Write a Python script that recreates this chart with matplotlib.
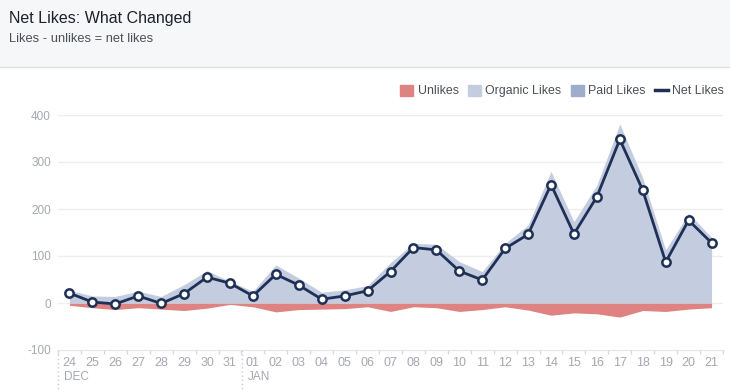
import matplotlib.pyplot as plt
from matplotlib.patches import Patch, Rectangle
from matplotlib.lines import Line2D
import numpy as np

plt.rcParams['font.family'] = ['Liberation Sans', 'DejaVu Sans']

# ── DATA ─────────────────────────────────────────────────────────────────────
day_labels = ["24", "25", "26", "27", "28", "29", "30", "31",
              "01", "02", "03", "04", "05", "06", "07", "08", "09", "10",
              "11", "12", "13", "14", "15", "16", "17", "18", "19", "20", "21"]
month_labels = ["DEC", "JAN"]
month_start = [0, 8]   # index of the first day of each month

organic_likes = [27, 15, 14, 25, 14, 39, 69, 46, 25, 81, 53, 23, 28, 37, 86,
                 127, 125, 88, 67, 127, 166, 280, 173, 251, 381, 266, 113, 191, 140]
paid_likes = [0] * 29
unlikes = [5, 10, 14, 10, 13, 16, 11, 3, 8, 19, 14, 13, 12, 8, 18,
           8, 10, 18, 14, 8, 15, 26, 21, 23, 30, 16, 18, 13, 10]
net_likes = [21, 2, -2, 15, -1, 20, 55, 42, 15, 61, 38, 8, 15, 26, 67,
             118, 113, 68, 49, 116, 146, 252, 147, 226, 348, 240, 87, 176, 128]

# ── COLOURS ──────────────────────────────────────────────────────────────────
C_UNLIKE = "#de8382"
C_ORGANIC = "#c4cde0"
C_PAID = "#9eadcb"
C_NET = "#1f3056"
C_TICK = "#a5a8b0"
C_GRID = "#eceef1"

x = np.arange(len(day_labels))
organic = np.array(organic_likes)
paid = np.array(paid_likes)
unl = np.array(unlikes)

fig = plt.figure(figsize=(7.3, 3.92), dpi=100)
fig.patch.set_facecolor("white")

# header band
fig.patches.append(Rectangle((0, 1 - 67 / 392), 1, 67 / 392, transform=fig.transFigure,
                             facecolor="#f6f7f9", edgecolor="none", zorder=0))
fig.add_artist(Line2D([0, 1], [1 - 67 / 392] * 2, transform=fig.transFigure,
                      color="#dddfe2", lw=1))
fig.text(9 / 730, 1 - 18 / 392, "Net Likes: What Changed", fontsize=11.5,
         color="#1d2129", va="center", ha="left")
fig.text(9 / 730, 1 - 39 / 392, "Likes - unlikes = net likes", fontsize=9.3,
         color="#4b4f56", va="center", ha="left")

ax = fig.add_axes([58 / 730, 42 / 392, 665 / 730, (350 - 115) / 392])
ax.set_xlim(-0.48, len(x) - 1 + 0.48)
ax.set_ylim(-100, 400)

ax.fill_between(x, 0, -unl, color=C_UNLIKE, lw=0, zorder=2)
ax.fill_between(x, 0, paid, color=C_PAID, lw=0, zorder=2)
ax.fill_between(x, paid, paid + organic, color=C_ORGANIC, lw=0, zorder=2, clip_on=False)
ax.plot(x, net_likes, color=C_NET, lw=2, marker="o", ms=6, mfc="white",
        mec=C_NET, mew=1.8, zorder=4, clip_on=False)

# grid
for v in [0, 100, 200, 300, 400]:
    ax.axhline(v, color=C_GRID, lw=1, zorder=1)

ax.set_yticks([-100, 0, 100, 200, 300, 400])
ax.set_yticklabels(["-100", "0", "100", "200", "300", "400"])
ax.tick_params(axis="y", length=0, pad=5, labelsize=8.5, labelcolor=C_TICK)

ax.set_xticks(x)
ax.set_xticklabels(day_labels)
ax.tick_params(axis="x", length=0, pad=5, labelsize=9, labelcolor=C_TICK)
ax.set_xticks(np.arange(len(x) + 1) - 0.5, minor=True)
ax.tick_params(axis="x", which="minor", length=3, color="#d5d8de", width=1)

for s in ["top", "right", "left"]:
    ax.spines[s].set_visible(False)
ax.spines["bottom"].set_color("#e3e5e9")

# month labels and separators
for lab, i in zip(month_labels, month_start):
    ax.text(i - 0.22, -0.115, lab, transform=ax.get_xaxis_transform(),
            fontsize=8.5, color=C_TICK, ha="left", va="center")
    ax.add_line(Line2D([i - 0.48, i - 0.48], [0, -0.17], transform=ax.get_xaxis_transform(),
                       color="#c9ccd2", lw=1, ls=(0, (1, 2)), clip_on=False))

handles = [Patch(color=C_UNLIKE), Patch(color=C_ORGANIC), Patch(color=C_PAID),
           Line2D([], [], color=C_NET, lw=2.5)]
fig.legend(handles, ["Unlikes", "Organic Likes", "Paid Likes", "Net Likes"],
           loc="center right", bbox_to_anchor=(724 / 730, 1 - 91 / 392), ncol=4,
           frameon=False, fontsize=8.9, labelcolor="#4b4f56", handlelength=1.05,
           handleheight=1.05, handletextpad=0.35, columnspacing=0.75,
           borderaxespad=0, borderpad=0)

fig.savefig("out.png", dpi=100)
